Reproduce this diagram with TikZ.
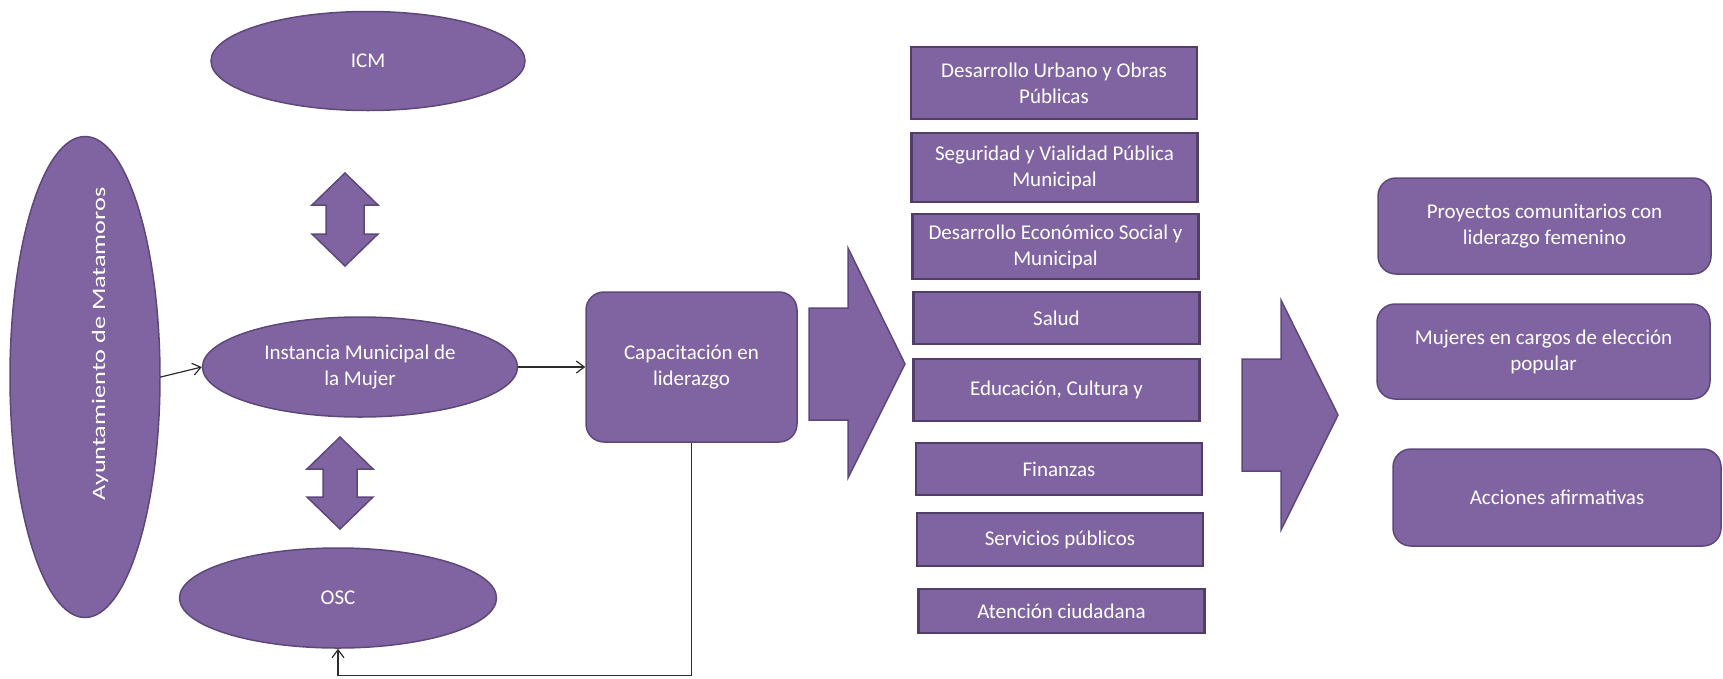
\documentclass[tikz,border=0pt]{standalone}
\usepackage{fontspec}
\setmainfont{Carlito}
\usetikzlibrary{shapes.geometric,arrows.meta}

\definecolor{purplefill}{RGB}{128,100,162}
\definecolor{purpleline}{RGB}{92,72,122}
\definecolor{boxline}{RGB}{80,62,104}
\definecolor{linkgray}{RGB}{45,45,45}

\newcommand{\boxfont}{\fontsize{21}{26}\selectfont}

\tikzset{
  oval/.style={ellipse, draw=purpleline, fill=purplefill, line width=1.5pt,
    text=white, font=\boxfont, align=center, inner sep=0pt},
  roundbox/.style={rectangle, rounded corners=18pt, draw=purpleline, fill=purplefill,
    line width=1.5pt, text=white, font=\boxfont, align=center, inner sep=0pt},
  areabox/.style={rectangle, draw=boxline, fill=purplefill, line width=2.5pt,
    text=white, font=\boxfont, align=center, inner sep=0pt, minimum width=286pt},
  fatarrow/.style={draw=purpleline, fill=purplefill, line width=1.5pt, line join=miter},
  link/.style={->, draw=linkgray, line width=1.2pt}
}

\begin{document}
\begin{tikzpicture}[x=1pt, y=-1pt, >={Straight Barb[length=8pt,width=12pt]}]
  \useasboundingbox (0,0) rectangle (1723,678);

  % left column
  \node[oval, minimum width=150pt, minimum height=481pt] (ayunt) at (85,377) {};
  \node[rotate=90, text=white, font=\fontsize{19}{22}\selectfont] (ayunttext) at (100,344)
    {\scalebox{1.38}[1]{Ayuntamiento de Matamoros}};
  \node[oval, minimum width=314pt, minimum height=99pt] (icm) at (368,61) {ICM};
  \node[oval, minimum width=315pt, minimum height=100pt] (instancia) at (360,367)
    {Instancia Municipal de\\la Mujer};
  \node[oval, minimum width=317pt, minimum height=100pt] (osc) at (338,598) {OSC};
  \node[roundbox, minimum width=211pt, minimum height=150pt] (capacit) at (691.5,367)
    {Capacitación en\\liderazgo};

  % double arrows
  \draw[fatarrow] (345,173) -- (378,205) -- (364,205) -- (364,234) -- (378,234) -- (345,266)
    -- (312,234) -- (326,234) -- (326,205) -- (312,205) -- cycle;
  \draw[fatarrow] (340,437) -- (373,469) -- (357,469) -- (357,497) -- (373,497) -- (340,529)
    -- (307,497) -- (323,497) -- (323,469) -- (307,469) -- cycle;

  % connectors
  \draw[link] (ayunt.east) -- (instancia.west);
  \draw[link] (instancia) -- (capacit);
  \draw[link] (capacit.south) -- ++(0,233) -| (osc.south);

  % big arrows
  \draw[fatarrow] (809,308) -- (848,308) -- (848,248) -- (905,364) -- (848,478) -- (848,420)
    -- (809,420) -- cycle;
  \draw[fatarrow] (1242,359) -- (1281,359) -- (1281,300) -- (1338,415) -- (1281,530) -- (1281,471)
    -- (1242,471) -- cycle;

  % areas
  \node[areabox, minimum height=72pt] (urbano) at (1054,83) {Desarrollo Urbano y Obras\\Públicas};
  \node[areabox, minimum height=69pt] (seguridad) at (1054.5,167.5) {Seguridad y Vialidad Pública\\Municipal};
  \node[areabox, minimum height=65pt] (economico) at (1055.5,246.5) {Desarrollo Económico Social y\\Municipal};
  \node[areabox, minimum height=52pt] (salud) at (1056.5,318) {Salud};
  \node[areabox, minimum height=62pt] (educacion) at (1056.5,390) {Educación, Cultura y};
  \node[areabox, minimum height=52pt] (finanzas) at (1059,469) {Finanzas};
  \node[areabox, minimum height=53pt] (servicios) at (1060,539.5) {Servicios públicos};
  \node[areabox, minimum height=44pt] (atencion) at (1061.5,611) {Atención ciudadana};

  % results
  \node[roundbox, minimum width=333pt, minimum height=96pt] (proyectos) at (1544.5,226)
    {Proyectos comunitarios con\\liderazgo femenino};
  \node[roundbox, minimum width=333pt, minimum height=95pt] (mujeres) at (1543.5,351.5)
    {Mujeres en cargos de elección\\popular};
  \node[roundbox, minimum width=328pt, minimum height=97pt] (acciones) at (1557,497.5)
    {Acciones afirmativas};
\end{tikzpicture}
\end{document}
